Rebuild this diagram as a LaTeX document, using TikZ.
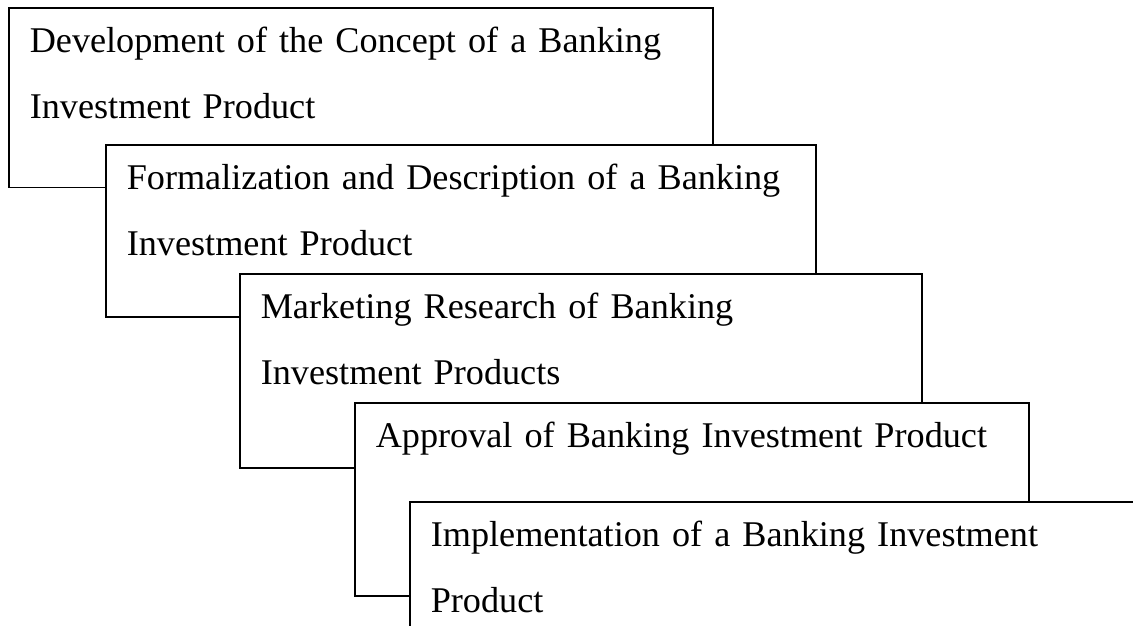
\documentclass[tikz,border=0pt]{standalone}
\usepackage{fontspec}
\setmainfont{Liberation Serif}

\begin{document}
\begin{tikzpicture}[x=1pt, y=-1pt, stage/.style={draw, fill=white, line width=1.6pt, anchor=north west, align=left, font=\fontsize{36.2}{66}\selectfont, inner xsep=21pt, inner ysep=0pt, text height=44.5pt}]

            \useasboundingbox (0,0) rectangle (1133,626);
            \clip (0,0) rectangle (1133,626);

            \node[stage, text width=662pt, text depth=134.5pt] (concept) at (8,7.5) {Development of the Concept of a Banking \\ Investment Product};
            \node[stage, text width=668pt, text depth=127.5pt] (formal) at (105,144) {Formalization and Description of a Banking \\ Investment Product};
            \node[stage, text width=640pt, text depth=149.5pt] (research) at (239,273) {Marketing Research of Banking \\ Investment Products};
            \node[stage, text width=632pt, text depth=148.5pt] (approval) at (354,402) {Approval of Banking Investment Product};
            \node[stage, text width=700pt, text depth=110.5pt] (impl) at (409,501) {Implementation of a Banking Investment \\ Product};

        \end{tikzpicture}
\end{document}
